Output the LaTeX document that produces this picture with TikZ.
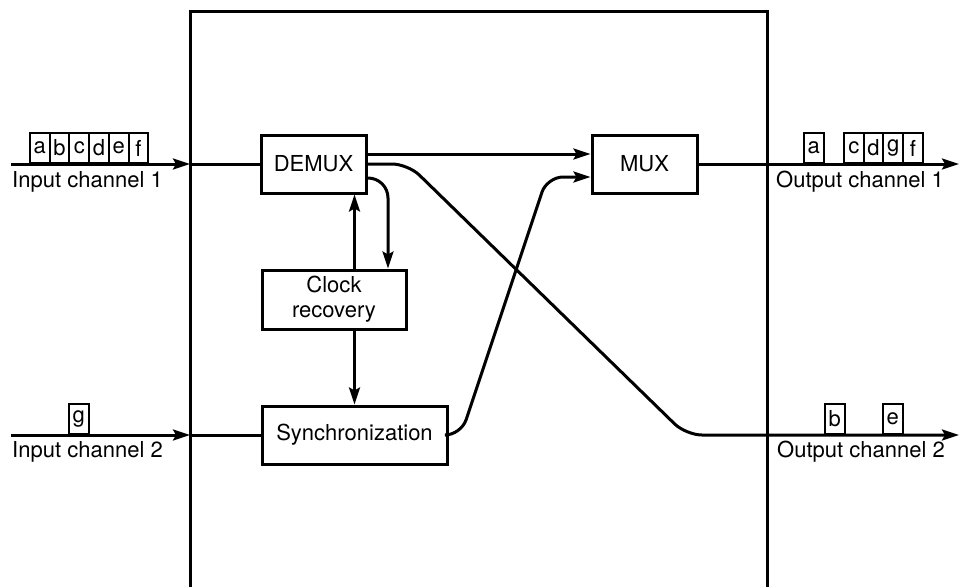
\documentclass[tikz,border=0pt]{standalone}
\usepackage{fontspec}
\setmainfont{TeX Gyre Heros}
\usetikzlibrary{arrows.meta}
\begin{document}
\begin{tikzpicture}[x=1pt,y=-1pt,
  font=\fontsize{22}{25}\selectfont,
  wire/.style={line width=3pt},
  arr/.style={wire,-{Stealth[length=17pt,width=11pt,inset=3pt]}},
  block/.style={draw,line width=3pt,inner sep=0pt,align=center},
  cell/.style={draw,line width=2pt,inner sep=0pt,anchor=south west,
    minimum width=19.7pt,minimum height=30pt,font=\fontsize{22}{24}\selectfont},
  lbl/.style={inner sep=0pt,anchor=west}]
\useasboundingbox (0,0) rectangle (960,586);

% switching unit outline (open at the bottom)
\draw[line width=3pt] (190,590) -- (190,12) -- (767,12) -- (767,590);

% functional blocks
\node[block,minimum width=105pt,minimum height=58pt] (demux) at (313.5,164) {DEMUX};
\node[block,minimum width=105pt,minimum height=58pt] (mux) at (644.5,164) {MUX};
\node[block,minimum width=144pt,minimum height=59pt] (clock) at (334,299.5) {Clock\\recovery};
\node[block,minimum width=185pt,minimum height=58pt] (sync) at (354.5,435) {Synchronization};

% channel end points
\coordinate (in1) at (11,164);
\coordinate (in2) at (11,435);
\coordinate (b1) at (190,164);
\coordinate (b2) at (190,435);
\coordinate (out1) at (959,164);
\coordinate (out2) at (959,435);

% inputs
\draw[arr] (in1) -- (b1);
\draw[wire] (b1) -- (demux.west);
\draw[arr] (in2) -- (b2);
\draw[wire] (b2) -- (sync.west);

% DEMUX to MUX
\draw[arr] ([yshift=10pt]demux.east) -- ([yshift=10pt]mux.west);
% DEMUX to output channel 2
\draw[arr,rounded corners=16pt] (demux.east) -- (408,164) -- (686,435) -- (out2);
% DEMUX to clock recovery
\draw[arr,rounded corners=20pt] ([yshift=-14pt]demux.east) -| ([xshift=54pt]clock.north);
% clock recovery to DEMUX and to synchronization
\draw[arr] (clock.north -| sync.north) -- (demux.south -| sync.north);
\draw[arr] (clock.south -| sync.north) -- (sync.north);
% synchronization to MUX
\draw[arr,rounded corners=16pt] (sync.east) -- (461,435) -- (547,177) -- ([yshift=-13pt]mux.west);
% MUX to output channel 1
\draw[arr] (mux.east) -- (out1);

% frames on the channels
\foreach \c [count=\i from 0] in {a,b,c,d,e,f}
  \node[cell] (i1\c) at (29+19.7*\i,164) {\c};
\node[cell] (i2g) at (68,435) {g};

\node[cell] (o1a) at (803,164) {a};
\foreach \c [count=\i from 0] in {c,d,g,f}
  \node[cell] (o1\c) at (843+19.7*\i,164) {\c};
\node[cell] (o2b) at (824,435) {b};
\node[cell] (o2e) at (882,435) {e};

% channel labels
\node[lbl] (l1) at (12,182) {Input channel 1};
\node[lbl] (l2) at (12,452) {Input channel 2};
\node[lbl] (l3) at (776,182) {Output channel 1};
\node[lbl] (l4) at (777,452) {Output channel 2};
\end{tikzpicture}
\end{document}
